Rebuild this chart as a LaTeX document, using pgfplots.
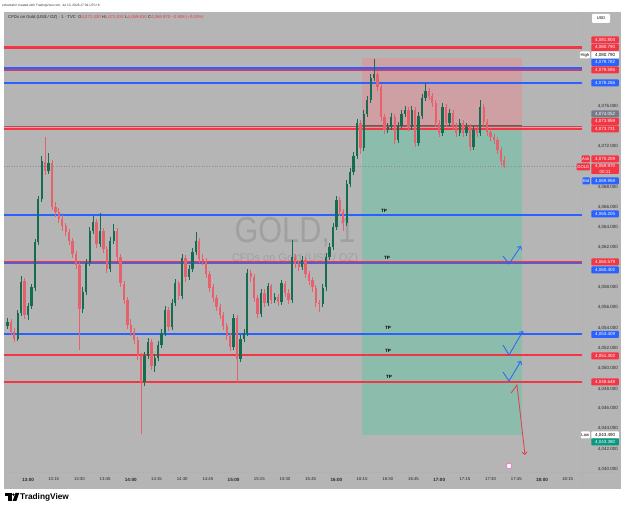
\documentclass[border=0pt]{standalone}
\usepackage{pgfplots}
\pgfplotsset{compat=1.18}
\usepackage{pgfplotstable}
\usepackage{graphicx}
\usepackage{fontspec}
\setmainfont{Liberation Sans}
\usetikzlibrary{arrows.meta}

\definecolor{bg}{RGB}{181,181,181}
\definecolor{upc}{RGB}{22,108,80}
\definecolor{dnc}{RGB}{232,96,108}
\definecolor{tvred}{RGB}{242,54,69}
\definecolor{tvblue}{RGB}{41,98,255}
\definecolor{redbox}{RGB}{206,160,163}
\definecolor{greenbox}{RGB}{139,188,172}
\definecolor{wm}{RGB}{160,160,160}
\definecolor{lblgray}{RGB}{120,123,134}
\definecolor{tvgreen}{RGB}{8,153,129}
\definecolor{axtxt}{RGB}{40,40,40}
\newcommand\fs[1]{\fontsize{#1}{#1}\selectfont}

% t = minutes after 13:00 (2-minute candles)
\pgfplotstableread{
t o h l c
-12 4054.2 4055.0 4053.9 4054.6
-10 4054.6 4054.9 4053.3 4053.6
-8 4053.6 4054.0 4052.6 4052.9
-6 4052.9 4055.8 4052.7 4055.5
-4 4055.5 4059.1 4055.2 4058.6
-2 4058.6 4058.9 4054.9 4055.3
0 4055.3 4056.5 4054.8 4056.2
2 4056.2 4058.3 4055.9 4058.0
4 4058.0 4062.8 4057.7 4062.5
6 4062.5 4067.1 4062.2 4066.8
8 4066.8 4071.0 4066.5 4070.5
10 4070.5 4072.9 4069.2 4069.6
12 4069.6 4071.3 4069.3 4070.3
14 4070.3 4070.6 4065.7 4066.0
16 4066.0 4066.5 4065.0 4065.5
18 4065.5 4065.9 4064.4 4064.8
20 4064.8 4065.2 4063.6 4064.1
22 4064.1 4064.4 4063.1 4063.5
24 4063.5 4063.8 4062.2 4062.6
26 4062.6 4062.9 4060.9 4061.3
28 4061.3 4061.6 4059.8 4060.2
30 4060.2 4060.5 4051.8 4055.9
32 4055.9 4058.0 4055.5 4057.6
34 4057.6 4060.8 4057.3 4060.4
36 4060.4 4064.0 4060.1 4063.6
38 4063.6 4065.1 4063.3 4064.5
40 4064.5 4064.8 4061.9 4062.3
42 4062.3 4065.4 4062.0 4063.6
44 4063.6 4063.9 4061.4 4061.8
46 4061.8 4062.1 4059.4 4059.8
48 4059.8 4063.0 4059.5 4062.6
50 4062.6 4064.3 4062.3 4063.6
52 4063.6 4063.9 4060.6 4061.0
54 4061.0 4061.3 4058.0 4058.4
56 4058.4 4058.7 4056.4 4056.8
58 4056.8 4057.1 4053.9 4054.3
60 4054.3 4054.9 4053.2 4053.6
62 4053.6 4054.0 4052.4 4052.8
64 4052.8 4053.1 4050.8 4051.2
66 4051.2 4051.5 4043.5 4048.6
68 4048.6 4051.6 4048.2 4051.2
70 4051.2 4053.0 4050.9 4052.6
72 4052.6 4052.9 4049.8 4050.2
74 4050.2 4051.4 4049.6 4051.0
76 4051.0 4052.7 4050.7 4052.3
78 4052.3 4053.9 4052.0 4053.5
80 4053.5 4056.2 4053.2 4055.8
82 4055.8 4056.1 4053.7 4054.1
84 4054.1 4056.9 4053.8 4056.5
86 4056.5 4058.8 4056.2 4058.4
88 4058.4 4058.7 4056.8 4057.2
90 4057.2 4061.3 4056.9 4060.9
92 4060.9 4061.2 4058.6 4059.0
94 4059.0 4060.2 4058.7 4059.8
96 4059.8 4061.9 4059.5 4061.5
98 4061.5 4063.5 4061.2 4062.6
100 4062.6 4062.9 4060.4 4060.8
102 4060.8 4061.3 4060.2 4060.6
104 4060.6 4060.9 4058.9 4059.3
106 4059.3 4059.6 4057.6 4058.0
108 4058.0 4058.3 4056.6 4057.0
110 4057.0 4057.3 4055.7 4056.1
112 4056.1 4056.4 4054.9 4055.3
114 4055.3 4055.6 4053.8 4054.2
116 4054.2 4054.5 4052.8 4053.2
118 4053.2 4053.5 4051.7 4052.1
120 4052.1 4055.4 4051.8 4055.0
122 4055.0 4055.3 4048.6 4050.9
124 4050.9 4053.3 4050.6 4052.9
126 4052.9 4053.9 4052.6 4053.5
128 4053.5 4059.8 4053.2 4059.4
130 4059.4 4059.7 4058.6 4059.0
132 4059.0 4059.3 4056.6 4057.0
134 4057.0 4057.3 4055.0 4055.4
136 4055.4 4057.9 4055.1 4057.5
138 4057.5 4057.8 4056.1 4056.5
140 4056.5 4058.5 4056.2 4058.1
142 4058.1 4058.4 4056.4 4056.8
144 4056.8 4057.5 4056.5 4057.1
146 4057.1 4057.4 4056.2 4056.6
148 4056.6 4058.8 4056.3 4058.4
150 4058.4 4058.7 4057.1 4057.5
152 4057.5 4057.8 4056.4 4056.8
154 4056.8 4062.7 4056.5 4061.0
156 4061.0 4061.3 4059.9 4060.3
158 4060.3 4060.6 4059.6 4060.0
160 4060.0 4061.1 4059.7 4060.7
162 4060.7 4061.0 4058.9 4059.3
164 4059.3 4059.6 4058.3 4058.7
166 4058.7 4059.0 4057.6 4058.0
168 4058.0 4058.3 4056.1 4056.5
170 4056.5 4056.8 4055.6 4056.4
172 4056.4 4058.4 4056.1 4058.0
174 4058.0 4061.4 4057.7 4061.0
176 4061.0 4062.4 4060.7 4062.0
178 4062.0 4064.4 4061.7 4064.0
180 4064.0 4067.1 4063.7 4066.7
182 4066.7 4067.0 4065.1 4065.5
184 4065.5 4065.8 4063.6 4064.4
186 4064.4 4068.7 4064.1 4068.3
188 4068.3 4069.9 4068.0 4069.5
190 4069.5 4071.4 4069.2 4071.0
192 4071.0 4074.7 4070.7 4074.3
194 4074.3 4074.6 4071.2 4071.8
196 4071.8 4075.6 4071.5 4075.2
198 4075.2 4077.0 4074.9 4076.6
200 4076.6 4079.2 4076.3 4078.8
202 4078.8 4080.7 4078.5 4079.2
204 4079.2 4079.5 4077.5 4077.9
206 4077.9 4078.2 4074.5 4074.9
208 4074.9 4075.2 4073.2 4073.6
210 4073.6 4074.3 4073.3 4073.9
212 4073.9 4075.3 4073.6 4074.9
214 4074.9 4075.2 4072.2 4072.6
216 4072.6 4074.4 4072.3 4074.0
218 4074.0 4075.6 4073.7 4075.2
220 4075.2 4076.0 4074.9 4075.6
222 4075.6 4075.9 4073.5 4073.9
224 4073.9 4076.0 4073.6 4075.6
226 4075.6 4075.9 4071.9 4072.3
228 4072.3 4075.4 4072.0 4075.0
230 4075.0 4077.2 4074.7 4076.8
232 4076.8 4078.3 4076.5 4077.5
234 4077.5 4077.8 4076.6 4077.0
236 4077.0 4077.3 4075.9 4076.3
238 4076.3 4076.6 4073.9 4074.3
240 4074.3 4074.6 4072.9 4073.3
242 4073.3 4076.3 4073.0 4075.9
244 4075.9 4076.2 4073.9 4074.3
246 4074.3 4075.7 4074.0 4075.3
248 4075.3 4075.6 4073.6 4074.0
250 4074.0 4074.3 4072.9 4073.3
252 4073.3 4074.7 4073.0 4074.3
254 4074.3 4074.6 4072.9 4073.3
256 4073.3 4074.3 4073.0 4073.9
258 4073.9 4074.2 4071.5 4071.9
260 4071.9 4074.0 4071.6 4073.6
262 4073.6 4073.9 4072.9 4073.3
264 4073.3 4076.6 4073.0 4075.9
266 4075.9 4076.2 4074.0 4074.4
268 4074.4 4074.7 4073.0 4073.4
270 4073.4 4073.7 4072.5 4072.9
272 4072.9 4073.2 4072.2 4072.6
274 4072.6 4072.9 4071.2 4071.6
276 4071.6 4071.9 4070.2 4070.6
278 4070.6 4071.03 4069.81 4069.97
}\candles

\begin{document}
\begin{tikzpicture}
% ---------- background (pixel coordinates, y down) ----------
\begin{scope}[x=1pt,y=-1pt]
\fill[white] (0,0) rectangle (625,510);
\fill[bg] (4,12) rectangle (621,489);
\draw[black!30, line width=0.4pt] (582,12) -- (582,489);
\draw[black!30, line width=0.4pt] (4,472) -- (621,472);
\node[text=wm, font=\fs{36}, inner sep=0pt] at (295,232) {\scalebox{0.85}[1]{GOLD, 1}};
\node[text=wm, font=\fs{11}, inner sep=0pt] at (295,259) {CFDs on Gold (US\$ / OZ)};
\end{scope}

\begin{axis}[at={(4pt,-472pt)}, anchor=south west, scale only axis,
  width=578pt, height=460pt,
  xmin=-14.01, xmax=323.35, ymin=4039.70, ymax=4085.32,
  hide axis, clip=false]

% position boxes
\addplot[draw=none, fill=redbox, forget plot] coordinates {(194.94,4074.052) (288.33,4074.052) (288.33,4080.790) (194.94,4080.790)} -- cycle;
\addplot[draw=none, fill=greenbox, forget plot] coordinates {(194.94,4043.380) (288.33,4043.380) (288.33,4074.052) (194.94,4074.052)} -- cycle;
\addplot[black!45!redbox, line width=1pt, forget plot] coordinates {(194.94,4074.052) (288.33,4074.052)};

% horizontal levels
\addplot[tvred, line width=2.2pt, forget plot] coordinates {(-14.01,4081.804) (323.35,4081.804)};
\addplot[tvblue, line width=1.6pt, forget plot] coordinates {(-14.01,4079.782) (323.35,4079.782)};
\addplot[tvred!75!tvblue, line width=1.6pt, forget plot] coordinates {(-14.01,4079.596) (323.35,4079.596)};
\addplot[tvblue, line width=1.5pt, forget plot] coordinates {(-14.01,4078.266) (323.35,4078.266)};
\addplot[tvred, line width=1.5pt, forget plot] coordinates {(-14.01,4073.959) (323.35,4073.959)};
\addplot[tvred, line width=1.5pt, forget plot] coordinates {(-14.01,4073.731) (323.35,4073.731)};
\addplot[black!45, dotted, line width=0.6pt, forget plot] coordinates {(-14.01,4069.970) (323.35,4069.970)};
\addplot[tvblue, line width=1.5pt, forget plot] coordinates {(-14.01,4065.205) (323.35,4065.205)};
\addplot[tvblue!70!tvred, line width=1.6pt, forget plot] coordinates {(-14.01,4060.402) (323.35,4060.402)};
\addplot[tvred, line width=1.6pt, forget plot] coordinates {(-14.01,4060.579) (323.35,4060.579)};
\addplot[tvblue, line width=1.5pt, forget plot] coordinates {(-14.01,4053.409) (323.35,4053.409)};
\addplot[tvred, line width=1.5pt, forget plot] coordinates {(-14.01,4051.302) (323.35,4051.302)};
\addplot[tvred, line width=1.5pt, forget plot] coordinates {(-14.01,4048.648) (323.35,4048.648)};

% candles: wicks
\addplot[draw=none, mark=none, forget plot,
  error bars/.cd, y dir=both, y explicit, error mark=none,
  error bar style={upc, line width=0.7pt}]
  table[x=t, y expr={(\thisrow{h}+\thisrow{l})/2}, y error expr={(\thisrow{h}-\thisrow{l})/2},
        restrict expr to domain={\thisrow{c}-\thisrow{o}}{0:100}] {\candles};
\addplot[draw=none, mark=none, forget plot,
  error bars/.cd, y dir=both, y explicit, error mark=none,
  error bar style={dnc, line width=0.7pt}]
  table[x=t, y expr={(\thisrow{h}+\thisrow{l})/2}, y error expr={(\thisrow{h}-\thisrow{l})/2},
        restrict expr to domain={\thisrow{c}-\thisrow{o}}{-100:-0.0001}] {\candles};
% candles: bodies
\addplot[draw=none, mark=none, forget plot,
  error bars/.cd, y dir=both, y explicit, error mark=none,
  error bar style={upc, line width=2.3pt}]
  table[x=t, y expr={(\thisrow{o}+\thisrow{c})/2}, y error expr={abs(\thisrow{c}-\thisrow{o})/2},
        restrict expr to domain={\thisrow{c}-\thisrow{o}}{0:100}] {\candles};
\addplot[draw=none, mark=none, forget plot,
  error bars/.cd, y dir=both, y explicit, error mark=none,
  error bar style={dnc, line width=2.3pt}]
  table[x=t, y expr={(\thisrow{o}+\thisrow{c})/2}, y error expr={abs(\thisrow{c}-\thisrow{o})/2},
        restrict expr to domain={\thisrow{c}-\thisrow{o}}{-100:-0.0001}] {\candles};
\end{axis}

% ---------- foreground (pixel coordinates) ----------
\begin{scope}[x=1pt,y=-1pt]
% header texts
\node[anchor=west, inner sep=0pt, font=\fs{3.2}, text=black!80] at (2,6) {zzhantahir created with TradingView.com, Jul 13, 2026 17:39 UTC+8};
\node[anchor=west, inner sep=0pt, font=\fs{4.3}, text=black!85] at (8,17)
  {CFDs on Gold (US\$ / OZ) · 1 · TVC\enspace O\textcolor{tvred}{4,071.030} H\textcolor{tvred}{4,071.032} L\textcolor{tvred}{4,069.810} C\textcolor{tvred}{4,069.970} \textcolor{tvred}{−0.938 (−0.02\%)}};
\node[fill=white, rounded corners=1pt, inner sep=0pt, minimum width=18pt, minimum height=9pt, font=\fs{4}] at (601,18.5) {USD};

% TP labels
\foreach \xx/\yy in {384/211, 387/258, 388/328, 388/351, 389/377}
  \node[font=\bfseries\fs{4.6}, inner sep=0pt] at (\xx,\yy) {TP};

% arrows
\draw[tvblue, line width=0.8pt, -{Straight Barb[length=2.5pt,width=5pt]}] (503,256) -- (509,264) -- (521,246);
\draw[tvblue, line width=0.8pt, -{Straight Barb[length=2.5pt,width=5pt]}] (503,345) -- (509,355) -- (523,331);
\draw[tvblue, line width=0.8pt, -{Straight Barb[length=2.5pt,width=5pt]}] (503,372) -- (509,381) -- (521,361);
\draw[tvred, line width=0.8pt, -{Straight Barb[length=2.5pt,width=5pt]}] (511,393) -- (517,385) -- (525,455);
\draw[magenta!60, line width=0.6pt, fill=white] (509,466) circle (2.8);

% price scale tick labels
\foreach \yy/\lab in {106/{4,076.000}, 146.3/{4,072.000}, 187.5/{4,068.000}, 206.8/{4,066.000}, 227/{4,064.000}, 247.2/{4,062.000}, 287.5/{4,058.000}, 307.7/{4,056.000}, 327.8/{4,054.000}, 348/{4,052.000}, 368.5/{4,050.000}, 389/{4,048.000}, 408.5/{4,046.000}, 428.7/{4,044.000}, 448.8/{4,042.000}, 469.5/{4,040.000}}
  \node[anchor=east, inner sep=0pt, font=\fs{4.5}, text=axtxt] at (618,\yy) {\lab};

% coloured price labels
\tikzset{plab/.style={anchor=east, rounded corners=0.8pt, inner sep=0pt, minimum width=27.5pt, minimum height=7pt, font=\fs{4.5}, text=white}}
\node[plab, fill=tvred] at (619,40) {4,081.804};
\node[plab, fill=tvred] at (619,47.5) {4,080.790};
\node[plab, fill=white, text=black] at (619,55) {4,080.790};
\node[anchor=east, fill=white, rounded corners=0.8pt, inner sep=0.6pt, minimum height=7pt, font=\fs{4.2}] at (590,55) {High};
\node[plab, fill=tvblue] at (619,62.5) {4,079.782};
\node[plab, fill=tvred] at (619,70) {4,079.596};
\node[plab, fill=tvblue] at (619,83) {4,078.266};
\node[plab, fill=lblgray] at (619,114) {4,074.052};
\node[plab, fill=tvred] at (619,121.5) {4,073.959};
\node[plab, fill=tvred] at (619,129) {4,073.731};
\node[plab, fill=tvred] at (619,159) {4,070.209};
\node[anchor=east, fill=tvred, text=white, rounded corners=0.8pt, inner sep=0.6pt, minimum height=7pt, font=\fs{4.2}] at (590,159) {Ask};
\node[anchor=north east, fill=tvred, text=white, rounded corners=0.8pt, inner sep=0.8pt, minimum width=27.5pt, align=center, font=\fs{4.5}] at (619,163.5) {4,069.970\\[1pt]00:11};
\node[anchor=east, fill=tvred, text=white, rounded corners=0.8pt, inner sep=0.6pt, minimum height=7pt, font=\fs{4.2}] at (590,167) {GOLD};
\node[plab, fill=tvblue] at (619,181) {4,069.959};
\node[anchor=east, fill=tvblue, text=white, rounded corners=0.8pt, inner sep=0.6pt, minimum height=7pt, font=\fs{4.2}] at (590,181) {Bid};
\node[plab, fill=tvblue] at (619,214) {4,065.205};
\node[plab, fill=tvred] at (619,262) {4,060.579};
\node[plab, fill=tvblue] at (619,270) {4,060.402};
\node[plab, fill=tvblue] at (619,334.5) {4,053.409};
\node[plab, fill=tvred] at (619,356) {4,051.302};
\node[plab, fill=tvred] at (619,382) {4,048.648};
\node[plab, fill=white, text=black] at (619,435) {4,043.490};
\node[anchor=east, fill=white, rounded corners=0.8pt, inner sep=0.6pt, minimum height=7pt, font=\fs{4.2}] at (590,435) {Low};
\node[plab, fill=tvgreen] at (619,442) {4,043.380};

% time axis labels
\foreach \k/\lab/\bf in {0/13:00/1, 1/13:15/0, 2/13:30/0, 3/13:45/0, 4/14:00/1, 5/14:15/0, 6/14:30/0, 7/14:45/0, 8/15:00/1, 9/15:15/0, 10/15:30/0, 11/15:45/0, 12/16:00/1, 13/16:15/0, 14/16:30/0, 15/16:45/0, 16/17:00/1, 17/17:15/0, 18/17:30/0, 19/17:45/0, 20/18:00/1, 21/18:15/0}
  {\ifnum\bf=1
     \node[inner sep=0pt, font=\bfseries\fs{4.6}, text=axtxt] at ({28+25.7*\k},479.5) {\lab};
   \else
     \node[inner sep=0pt, font=\fs{4.3}, text=axtxt] at ({28+25.7*\k},479.5) {\lab};
   \fi}

% TradingView logo
\fill[black] (5,493) rectangle (11.5,495.6);
\fill[black] (8.2,495.6) rectangle (11.5,501);
\fill[black] (13.4,494.6) circle (1.3);
\fill[black] (15.5,493) -- (19.2,493) -- (16.4,501) -- (12.6,501) -- cycle;
\node[anchor=west, inner sep=0pt, font=\bfseries\fs{8.3}] at (20,497.2) {TradingView};
\end{scope}
\end{tikzpicture}
\end{document}
